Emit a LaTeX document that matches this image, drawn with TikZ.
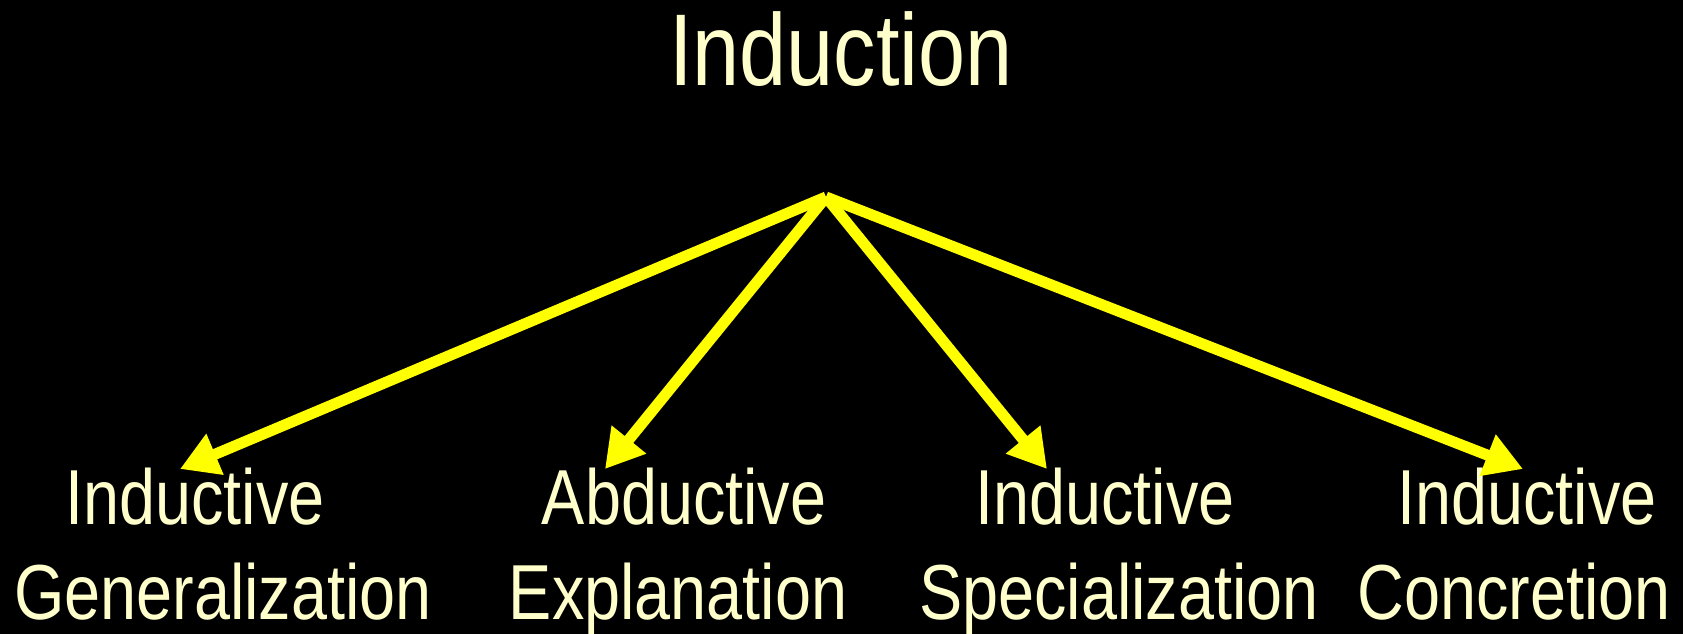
\documentclass[tikz,border=0pt]{standalone}
\usepackage{fontspec}
\setmainfont{Liberation Sans}[FakeStretch=0.83]
\usetikzlibrary{arrows.meta}
\definecolor{leaftext}{RGB}{255,255,204}
\definecolor{arrowyellow}{RGB}{255,255,0}
\begin{document}
\begin{tikzpicture}[x=1pt,y=-1pt,
  leaf/.style={anchor=base, inner sep=0pt, text=leaftext, font=\fontsize{78}{78}\selectfont},
  heading/.style={anchor=base, inner sep=0pt, text=leaftext, font=\fontsize{102}{102}\selectfont},
  branch/.style={draw=arrowyellow, line width=11pt, line cap=butt,
    -{Triangle[length=38pt,width=42pt]}}]
  % background
  \fill[black] (0,0) rectangle (1683,634);
  \useasboundingbox (0,0) rectangle (1683,634);

  % root
  \node[heading] (root) at (841,85) {Induction};
  \coordinate (apex) at (826,197);

  % leaves, one node per line
  \node[leaf] (genA) at (195,524) {Inductive};
  \node[leaf] (genB) at (223,619) {Generalization};
  \node[leaf] (expA) at (684,524) {Abductive};
  \node[leaf] (expB) at (678,619) {Explanation};
  \node[leaf] (speA) at (1105,524) {Inductive};
  \node[leaf] (speB) at (1119,619) {Specialization};
  \node[leaf] (conA) at (1527,524) {Inductive};
  \node[leaf] (conB) at (1514,619) {Concretion};

  % arrow tips just above each leaf
  \coordinate (tipgen) at (180,469);
  \coordinate (tipexp) at (605,469);
  \coordinate (tipspe) at (1047,469);
  \coordinate (tipcon) at (1523,469);

  \draw[branch] (apex) -- (tipgen);
  \draw[branch] (apex) -- (tipexp);
  \draw[branch] (apex) -- (tipspe);
  \draw[branch] (apex) -- (tipcon);
\end{tikzpicture}
\end{document}
